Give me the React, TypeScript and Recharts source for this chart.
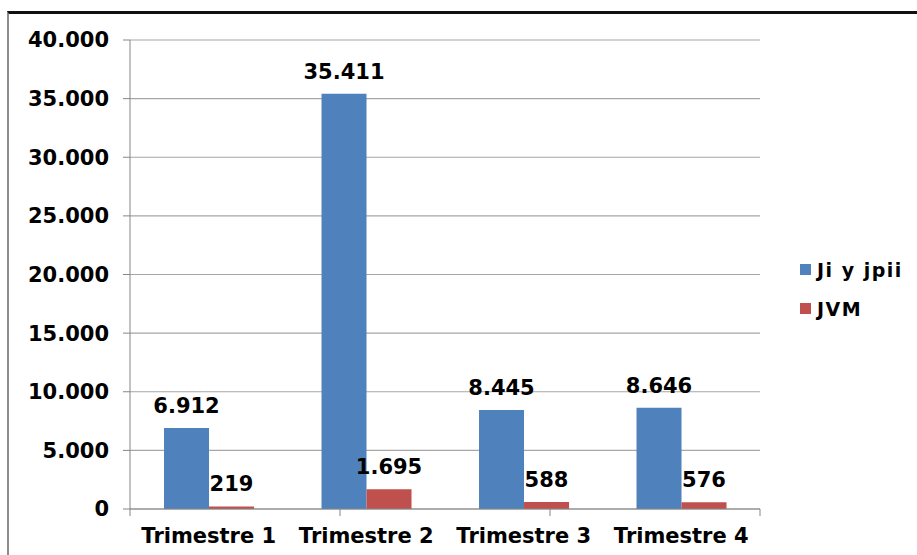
import React from 'react';
import { BarChart, Bar, XAxis, YAxis, CartesianGrid, Legend, LabelList } from 'recharts';

const categories = ['Trimestre 1', 'Trimestre 2', 'Trimestre 3', 'Trimestre 4'];
const jiValues = [6912, 35411, 8445, 8646];
const jvmValues = [219, 1695, 588, 576];
const yTicks = [0, 5000, 10000, 15000, 20000, 25000, 30000, 35000, 40000];
const boundaryTicks = [0, 1, 2, 3, 4];
const seriesNames = ['Ji y jpii', 'JVM'];
const seriesColors = ['#4F81BD', '#C0504D'];

const data = categories.map((name, i) => ({ name, ji: jiValues[i], jvm: jvmValues[i] }));

const FONT = '"DejaVu Sans", Verdana, sans-serif';
const fmt = (v: any) => String(v).replace(/\B(?=(\d{3})+(?!\d))/g, '.');

const LegendContent = () => (
  <div style={{ fontFamily: FONT, fontWeight: 'bold', fontSize: 19, letterSpacing: 1.5, color: '#000' }}>
    {seriesNames.map((n, i) => (
      <div key={n} style={{ display: 'flex', alignItems: 'center', height: 39 }}>
        <div style={{ width: 11, height: 11, background: seriesColors[i], marginRight: 6 }} />
        <span>{n}</span>
      </div>
    ))}
  </div>
);

const EmptyTick = () => <g />;

export default function App() {
  return (
    <div style={{ position: 'fixed', left: 0, top: 0, width: 917, height: 555, overflow: 'hidden', background: '#fff' }}>
      <div
        style={{
          position: 'absolute',
          left: 7,
          top: 11,
          width: 910,
          height: 544,
          boxSizing: 'border-box',
          borderTop: '3px solid #111',
          borderLeft: '2px solid #8c8c8c',
        }}
      />
      <div style={{ position: 'absolute', left: 0, top: 0 }}>
        <BarChart
          width={917}
          height={555}
          data={data}
          margin={{ top: 40, right: 40, bottom: 0, left: 0 }}
          barCategoryGap="21.6%"
          barGap={0}
        >
          <CartesianGrid vertical={false} stroke="#a6a6a6" strokeWidth={1.2} xAxisId="cat" />
          <XAxis
            xAxisId="a"
            type="number"
            domain={[0, 4]}
            ticks={boundaryTicks}
            allowDataOverflow
            tick={<EmptyTick />}
            axisLine={{ stroke: '#868686' }}
            tickLine={{ stroke: '#868686' }}
            tickSize={7}
            height={7}
          />
          <XAxis
            xAxisId="cat"
            dataKey="name"
            height={39}
            interval={0}
            tickLine={false}
            axisLine={false}
            tickSize={0}
            tickMargin={12}
            tick={{ fontSize: 21, fontWeight: 'bold', fill: '#000', fontFamily: FONT }}
          />
          <YAxis
            width={130}
            domain={[0, 40000]}
            ticks={yTicks}
            interval={0}
            tickFormatter={fmt}
            tickSize={7}
            tickMargin={14}
            axisLine={{ stroke: '#868686' }}
            tickLine={{ stroke: '#868686' }}
            tick={{ fontSize: 21, fontWeight: 'bold', fill: '#000', fontFamily: FONT }}
          />
          <Legend
            layout="vertical"
            align="right"
            verticalAlign="middle"
            width={117}
            content={<LegendContent />}
            wrapperStyle={{ left: 800, top: 250, right: 'auto', width: 117 }}
          />
          <Bar xAxisId="cat" dataKey="ji" name={seriesNames[0]} fill={seriesColors[0]} isAnimationActive={false}>
            <LabelList
              dataKey="ji"
              position="top"
              offset={15}
              formatter={fmt}
              style={{ fontSize: 21, fontWeight: 'bold', fill: '#000', fontFamily: FONT }}
            />
          </Bar>
          <Bar xAxisId="cat" dataKey="jvm" name={seriesNames[1]} fill={seriesColors[1]} isAnimationActive={false}>
            <LabelList
              dataKey="jvm"
              position="top"
              offset={15}
              formatter={fmt}
              style={{ fontSize: 21, fontWeight: 'bold', fill: '#000', fontFamily: FONT }}
            />
          </Bar>
        </BarChart>
      </div>
    </div>
  );
}
